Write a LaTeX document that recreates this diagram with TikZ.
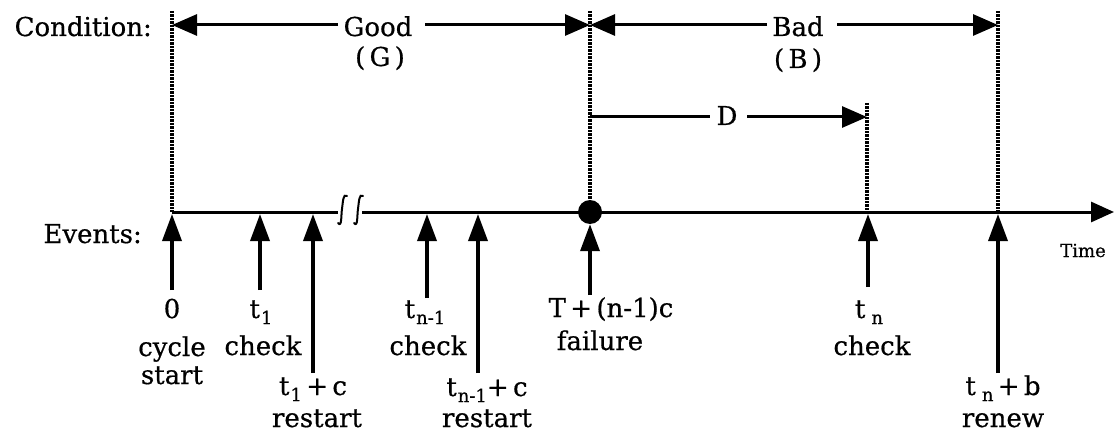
\documentclass[tikz,border=0pt]{standalone}
\usepackage{fontspec}
\setmainfont{DejaVu Serif}
\newfontfamily\heavy{DejaVu Serif}[FakeBold=0.6]
\usetikzlibrary{arrows.meta}
\newcommand\sbx[1]{\raisebox{-6pt}{\fontsize{18}{19}\selectfont #1}}
\begin{document}
\begin{tikzpicture}[x=1pt,y=-1pt,
  txt/.style={anchor=base,inner sep=0pt,font=\heavy\fontsize{26}{28}\selectfont},
  dotline/.style={line width=4pt,dash pattern=on 2.2pt off 1.3pt},
  hline/.style={line width=3pt},
  harrow/.style={line width=3pt,-{Triangle[length=25pt,width=21pt]}},
  varrow/.style={line width=3.5pt,-{Triangle[length=27pt,width=19pt]}},
  brk/.style={line width=2pt,line cap=round},
]
\useasboundingbox (0,0) rectangle (1114,433);

% side labels
\node[txt,anchor=base east] (cond) at (152,36) {Condition:};
\node[txt,anchor=base east] (ev) at (142,243) {Events:};

% dotted verticals
\coordinate (v1t) at (172,11);  \coordinate (v1b) at (172,212);
\coordinate (v2t) at (590,11);
\coordinate (v3t) at (867,103); \coordinate (v3b) at (867,212);
\coordinate (v4t) at (998,11);  \coordinate (v4b) at (998,212);
\node[circle,fill,minimum size=24pt,inner sep=0pt] (fail) at (590,212) {};
\draw[dotline] (v1t) -- (v1b);
\draw[dotline] (v2t) -- (fail.north);
\draw[dotline] (v3t) -- (v3b);
\draw[dotline] (v4t) -- (v4b);

% Good
\node[txt] (good) at (378,36) {Good};
\node[txt] (gp) at (380,66) {(\,G\,)};
\coordinate (gL) at (172,25); \coordinate (gA) at (338,25);
\coordinate (gB) at (425,25); \coordinate (gR) at (590,25);
\draw[harrow] (gA) -- (gL);
\draw[harrow] (gB) -- (gR);

% Bad
\node[txt] (bad) at (798,36) {Bad};
\node[txt] (bp) at (798,68) {(\,B\,)};
\coordinate (bL) at (590,25); \coordinate (bA) at (767,25);
\coordinate (bB) at (837,25); \coordinate (bR) at (998,25);
\draw[harrow] (bA) -- (bL);
\draw[harrow] (bB) -- (bR);

% D
\node[txt] (dd) at (727,125) {D};
\coordinate (dL) at (590,117); \coordinate (dA) at (710,117);
\coordinate (dB) at (747,117); \coordinate (dR) at (867,117);
\draw[hline] (dL) -- (dA);
\draw[harrow] (dB) -- (dR);

% time axis
\coordinate (ax0) at (172,212); \coordinate (axb1) at (338,212);
\coordinate (axb2) at (362,212); \coordinate (axE) at (1114,212);
\draw[hline] (ax0) -- (axb1);
\draw[line width=3pt,-{Triangle[length=23pt,width=20pt]}] (axb2) -- (axE);
\draw[brk] (338,223) .. controls (342,228) and (341,215) .. (342,209) .. controls (343,202) and (343,193) .. (347,196);
\draw[brk] (354,223) .. controls (358,228) and (357,215) .. (358,209) .. controls (359,202) and (359,193) .. (363,196);
\node[anchor=base,inner sep=0pt,font=\heavy\fontsize{18}{20}\selectfont] (time) at (1083,257) {Time};

% event arrows
\coordinate (e0b) at (172,290); \coordinate (e0t) at (172,214);
\coordinate (e1b) at (260,290); \coordinate (e1t) at (260,214);
\coordinate (e2b) at (313,373); \coordinate (e2t) at (313,214);
\coordinate (e3b) at (427,298); \coordinate (e3t) at (427,214);
\coordinate (e4b) at (478,373); \coordinate (e4t) at (478,214);
\coordinate (e5b) at (590,295);
\coordinate (e6b) at (868,287); \coordinate (e6t) at (868,214);
\coordinate (e7b) at (998,373); \coordinate (e7t) at (998,214);
\draw[varrow] (e0b) -- (e0t);
\draw[varrow] (e1b) -- (e1t);
\draw[varrow] (e2b) -- (e2t);
\draw[varrow] (e3b) -- (e3t);
\draw[varrow] (e4b) -- (e4t);
\draw[varrow] (e5b) -- (fail.south);
\draw[varrow] (e6b) -- (e6t);
\draw[varrow] (e7b) -- (e7t);

% event labels
\node[txt] (l0a) at (172,318) {0};
\node[txt] (l0b) at (172,356) {cycle};
\node[txt] (l0c) at (172,384) {start};
\node[txt] (l1a) at (261,318) {t\kern1pt\sbx{1}};
\node[txt] (l1b) at (263,355) {check};
\node[txt] (l2a) at (313,395) {t\kern1pt\sbx{1}\,+\,c};
\node[txt] (l2b) at (317,427) {restart};
\node[txt] (l3a) at (425,318) {t\kern1pt\sbx{n-1}};
\node[txt] (l3b) at (428,355) {check};
\node[txt] (l4a) at (487,396) {t\kern1pt\sbx{n-1}+\,c};
\node[txt] (l4b) at (487,427) {restart};
\node[txt] (l5a) at (611,317) {T\,+\,(n-1)c};
\node[txt] (l5b) at (600,350) {failure};
\node[txt] (l6a) at (869,318) {t\hspace{6pt}\sbx{n}};
\node[txt] (l6b) at (872,355) {check};
\node[txt] (l7a) at (1003,395) {t\hspace{6pt}\sbx{n}\,+\,b};
\node[txt] (l7b) at (1003,427) {renew};
\end{tikzpicture}
\end{document}
